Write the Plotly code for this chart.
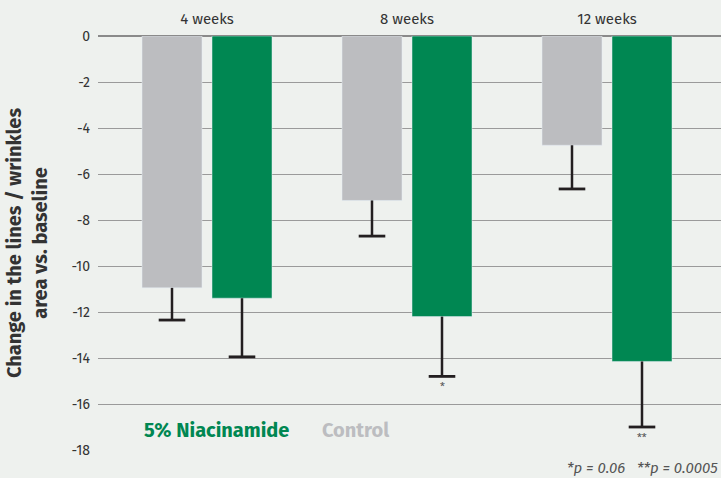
import plotly.graph_objects as go

categories = ["4 weeks", "8 weeks", "12 weeks"]
control = [-10.95, -7.15, -4.75]
control_err = [1.4, 1.55, 1.9]
niacinamide = [-11.4, -12.2, -14.15]
niacinamide_err = [2.55, 2.6, 2.85]
significance = ["", "*", "**"]
y_ticks = [0, -2, -4, -6, -8, -10, -12, -14, -16, -18]

GREEN = "#008752"
GRAY = "#bcbdc0"
ERR = "#231f20"
BG = "#eef1ee"
FONT = "Fira Sans, Open Sans, sans-serif"

BAR_W = 0.3
OFF = 0.175
x = list(range(len(categories)))
x_ctrl = [i - OFF for i in x]
x_niac = [i + OFF for i in x]

fig = go.Figure()
for xs, vals, errs, color, name in [
    (x_ctrl, control, control_err, GRAY, "Control"),
    (x_niac, niacinamide, niacinamide_err, GREEN, "5% Niacinamide"),
]:
    fig.add_trace(go.Bar(
        x=xs, y=vals, name=name, marker_color=color, width=BAR_W,
        error_y=dict(type="data", symmetric=False, array=[0] * len(vals), arrayminus=errs,
                     color=ERR, thickness=2.5, width=0),
    ))
    fig.add_trace(go.Scatter(
        x=xs, y=[v - e for v, e in zip(vals, errs)], mode="markers",
        marker=dict(symbol="line-ew", size=19, line=dict(color=ERR, width=2.8)),
        hoverinfo="skip", showlegend=False,
    ))

plot_l, plot_r, plot_t, plot_b = 98, 721, 36, 450

def px_to_paper(px, py):
    return (px - plot_l) / (plot_r - plot_l), (plot_b - py) / (plot_b - plot_t)

annotations = []
for i, s in enumerate(significance):
    if s:
        annotations.append(dict(
            x=x_niac[i], y=niacinamide[i] - niacinamide_err[i], xref="x", yref="y",
            yshift=-10, text=s, showarrow=False,
            font=dict(family=FONT, size=11, color="#555555"),
        ))

lx, ly = px_to_paper(142, 430)
cx, cy = px_to_paper(320, 430)
annotations += [
    dict(x=lx, y=ly, xref="paper", yref="paper", text="<b>5% Niacinamide</b>",
         showarrow=False, xanchor="left", yanchor="middle",
         font=dict(family=FONT, size=20, color=GREEN)),
    dict(x=cx, y=cy, xref="paper", yref="paper", text="<b>Control</b>",
         showarrow=False, xanchor="left", yanchor="middle",
         font=dict(family=FONT, size=20, color=GRAY)),
    dict(x=1.0, y=px_to_paper(0, 468)[1], xref="paper", yref="paper",
         text="<i>*p = 0.06   **p = 0.0005</i>",
         showarrow=False, xanchor="right", yanchor="middle", xshift=-1,
         font=dict(family=FONT, size=15, color="#555555")),
]

fig.update_layout(
    width=721, height=478,
    margin=dict(l=plot_l, r=721 - plot_r, t=plot_t, b=478 - plot_b),
    paper_bgcolor=BG, plot_bgcolor="rgba(0,0,0,0)",
    showlegend=False,
    font=dict(family=FONT, color="#333333"),
    annotations=annotations,
    xaxis=dict(
        side="top", tickvals=x, ticktext=categories, range=[-0.545, 2.57],
        showgrid=False, zeroline=False, showline=False, ticks="",
        ticklabelstandoff=8, automargin=False,
        tickfont=dict(family=FONT, size=15, color="#333333"),
    ),
    yaxis=dict(
        range=[-18, 0], tickvals=y_ticks, ticktext=[str(v) for v in y_ticks],
        showgrid=True, gridcolor="#9a9a9a", gridwidth=1,
        zeroline=True, zerolinecolor="#8a8a8a", zerolinewidth=2,
        ticks="", ticklabelstandoff=7, automargin=False,
        tickfont=dict(family=FONT, size=14, color="#333333"),
        title=dict(text="<b>Change in the lines / wrinkles<br>area vs. baseline</b>",
                   font=dict(family=FONT, size=20, color="#333333"), standoff=18),
    ),
)

fig.write_html(
    "out.html",
    config={"displayModeBar": False},
    post_script=f"document.body.style.margin='0';document.body.style.background='{BG}';",
)
